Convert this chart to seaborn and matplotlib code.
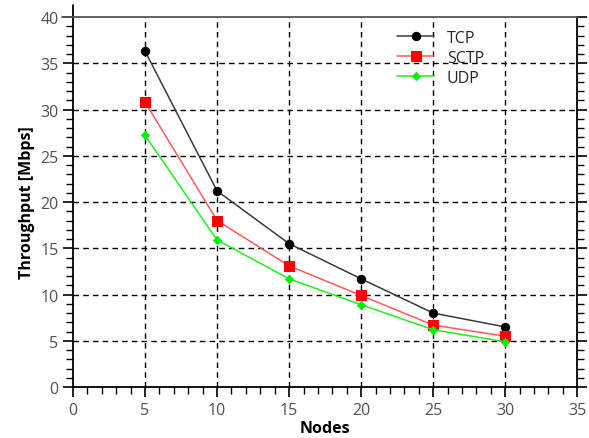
import matplotlib
matplotlib.use("Agg")
import matplotlib.pyplot as plt
import seaborn as sns
import pandas as pd
from matplotlib.ticker import MultipleLocator
from matplotlib.lines import Line2D

nodes = [5, 10, 15, 20, 25, 30]
tcp = [36.3, 21.2, 15.5, 11.7, 8.0, 6.5]
sctp = [30.8, 18.0, 13.1, 9.9, 6.7, 5.5]
udp = [27.2, 15.9, 11.7, 8.9, 6.2, 4.9]
series_names = ["TCP", "SCTP", "UDP"]

sns.set_style("white")
plt.rcParams['font.family'] = ['Open Sans', 'DejaVu Sans']

fig = plt.figure(figsize=(5.89, 4.39), dpi=100)
ax = fig.add_axes([0.124, 0.116, 0.856, 0.843])

styles = {
    "TCP": dict(color="#3a3a3a", marker="o", markersize=6, mfc="black", mec="black"),
    "SCTP": dict(color="#ff5a5a", marker="s", markersize=6.5, mfc="#ff0000", mec="#ff0000"),
    "UDP": dict(color="#22ee22", marker="D", markersize=4.3, mfc="#00ee00", mec="#00ee00"),
}
for name, vals in zip(series_names, [tcp, sctp, udp]):
    df = pd.DataFrame({"Nodes": nodes, "Throughput": vals})
    st = styles[name]
    sns.lineplot(data=df, x="Nodes", y="Throughput", ax=ax, label=name,
                 color=st["color"], marker=st["marker"], markersize=st["markersize"],
                 markerfacecolor=st["mfc"], markeredgecolor=st["mec"], linewidth=1.1)

ax.set_xlim(0, 35)
ax.set_ylim(0, 40)
ax.xaxis.set_major_locator(MultipleLocator(5))
ax.xaxis.set_minor_locator(MultipleLocator(1))
ax.yaxis.set_major_locator(MultipleLocator(5))
ax.yaxis.set_minor_locator(MultipleLocator(1))
ax.grid(True, which="major", color="black", linestyle=(0, (4, 3)), linewidth=1.0)
ax.set_axisbelow(True)

tick_color = "#55504a"
ax.tick_params(axis="both", which="major", direction="out", length=7, width=1.2,
               color="black", labelcolor=tick_color, labelsize=11.5,
               bottom=True, left=True, right=True, top=False)
ax.tick_params(axis="both", which="minor", direction="out", length=5, width=1.0,
               color="black", bottom=True, left=True, right=True, top=False)
ax.tick_params(axis="y", which="both", labelright=False)

for side in ["left", "bottom", "right"]:
    ax.spines[side].set_color("black")
    ax.spines[side].set_linewidth(1.3)
ax.spines["top"].set_color("#555555")
ax.spines["top"].set_linewidth(1.3)

# spine extensions as in the reference
ax.add_line(Line2D([-0.022, 0.0], [1.0, 1.0], transform=ax.transAxes, color="#555555",
                   linewidth=1.3, clip_on=False))
ax.add_line(Line2D([0.0, 0.0], [1.0, 1.032], transform=ax.transAxes, color="black",
                   linewidth=1.3, clip_on=False))

ax.set_xlabel("Nodes", fontsize=11.5, fontweight="bold", color="black", labelpad=2)
ax.set_ylabel("Throughput [Mbps]", fontsize=11.5, fontweight="bold", color="black", labelpad=4)

ax.legend(loc="upper left", bbox_to_anchor=(0.615, 1.005), frameon=False,
          fontsize=11.5, handlelength=2.3, labelspacing=0.25, handletextpad=0.8)

fig.canvas.draw()
for t in ax.yaxis.get_major_ticks():
    if abs(t.get_loc() - 40) < 1e-6 or abs(t.get_loc()) < 1e-6:
        t.gridline.set_visible(False)
for t in ax.xaxis.get_major_ticks():
    if abs(t.get_loc() - 35) < 1e-6 or abs(t.get_loc()) < 1e-6:
        t.gridline.set_visible(False)

fig.savefig("out.png", dpi=100)
